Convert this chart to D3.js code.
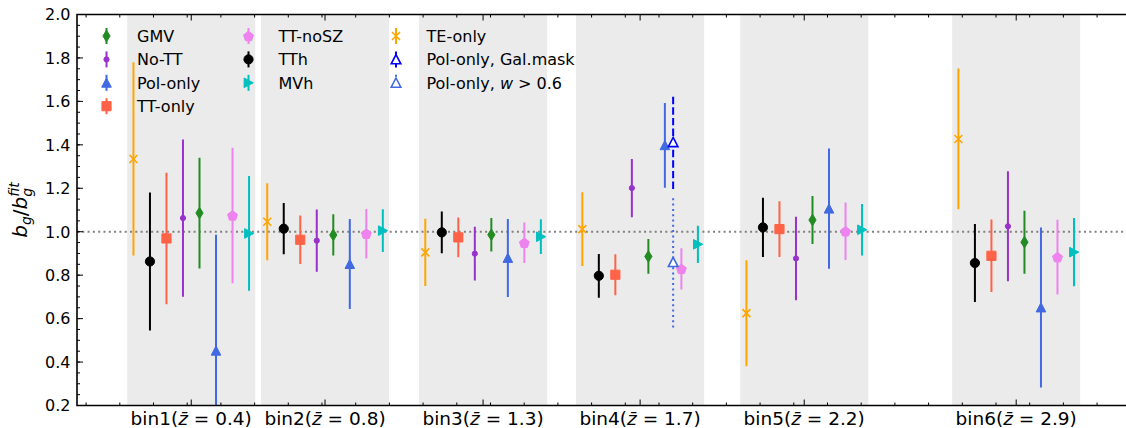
<!DOCTYPE html>
<meta charset="utf-8">
<style>
    body { margin: 0; background: #fff; }
    svg { display: block; }
    text { font-family: "DejaVu Sans", sans-serif; fill: #000; }
</style>
<body>
<script src="https://cdn.jsdelivr.net/npm/d3@7"></script>
<script>

    // bins
    var binNames = ["bin1", "bin2", "bin3", "bin4", "bin5", "bin6"];
    var binZbar = ["0.4", "0.8", "1.3", "1.7", "2.2", "2.9"];
    var binCenters = [0.412, 0.809, 1.278, 1.744, 2.231, 2.860];

    // b_g / b_g^fit per bin, with 1-sigma errors
    var gmvVal  = [1.086, 0.985, 0.986, 0.886, 1.054, 0.952];
    var gmvErr  = [0.255, 0.095, 0.077, 0.080, 0.110, 0.145];
    var noTTVal = [1.063, 0.959, 0.899, 1.201, 0.877, 1.025];
    var noTTErr = [0.362, 0.143, 0.124, 0.134, 0.192, 0.253];
    var polVal  = [0.452, 0.851, 0.879, 1.398, 1.106, 0.651];
    var polErr  = [0.534, 0.207, 0.179, 0.195, 0.277, 0.368];
    var ttVal   = [0.969, 0.963, 0.974, 0.802, 1.012, 0.889];
    var ttErr   = [0.303, 0.112, 0.091, 0.094, 0.128, 0.167];
    var noSZVal = [1.075, 0.991, 0.949, 0.829, 1.002, 0.883];
    var noSZErr = [0.312, 0.114, 0.093, 0.095, 0.132, 0.172];
    var tthVal  = [0.863, 1.014, 0.997, 0.797, 1.020, 0.856];
    var tthErr  = [0.318, 0.118, 0.096, 0.101, 0.136, 0.179];
    var mvhVal  = [0.992, 1.005, 0.977, 0.942, 1.009, 0.906];
    var mvhErr  = [0.264, 0.098, 0.080, 0.086, 0.119, 0.157];
    var teVal   = [1.335, 1.046, 0.905, 1.012, 0.625, 1.427];
    var teErr   = [0.445, 0.177, 0.155, 0.170, 0.244, 0.324];
    // extra pol-only checks, bin4 only
    var galBins = [3], galVal = [1.412], galErr = [0.215];
    var w06Bins = [3], w06Val = [0.860], w06Err = [0.301];

    var allBins = [0, 1, 2, 3, 4, 5];

    // plotting order; slot = horizontal offset inside a bin
    var series = [
        {name: "GMV", bins: allBins, val: gmvVal, err: gmvErr, slot: 0.5, color: "#228B22", shape: "thin_diamond"},
        {name: "No-TT", bins: allBins, val: noTTVal, err: noTTErr, slot: -0.5, color: "#9932CC", shape: "point"},
        {name: "Pol-only", bins: allBins, val: polVal, err: polErr, slot: 1.5, color: "#4169E1", shape: "triangle"},
        {name: "TT-only", bins: allBins, val: ttVal, err: ttErr, slot: -1.5, color: "#FF6347", shape: "square"},
        {name: "TT-noSZ", bins: allBins, val: noSZVal, err: noSZErr, slot: 2.5, color: "#EE82EE", shape: "pentagon"},
        {name: "TTh", bins: allBins, val: tthVal, err: tthErr, slot: -2.5, color: "#000000", shape: "circle"},
        {name: "MVh", bins: allBins, val: mvhVal, err: mvhErr, slot: 3.5, color: "#00BFBF", shape: "triangle_right"},
        {name: "TE-only", bins: allBins, val: teVal, err: teErr, slot: -3.5, color: "#FFA500", shape: "x"},
        {name: "Pol-only, Gal.mask", bins: galBins, val: galVal, err: galErr, slot: 2, color: "#0000FF", shape: "open_triangle", dash: "7.4 3.2"},
        {name: "Pol-only, w06", bins: w06Bins, val: w06Val, err: w06Err, slot: 2, color: "#4169E1", shape: "open_triangle", dash: "2 3.3"}
    ];

    var legendCols = [
        ["GMV", "No-TT", "Pol-only", "TT-only"],
        ["TT-noSZ", "TTh", "MVh"],
        ["TE-only", "Pol-only, Gal.mask", "Pol-only, w06"]
    ];

    var W = 1126, H = 428;
    var axL = 77, axT = 14.5, axB = 405.5, axR = 1151;
    var slotWidth = 0.049, bandHalf = 0.19;

    var x = d3.scaleLinear().domain([0.073, 3.26]).range([axL, axR]);
    var y = d3.scaleLinear().domain([0.2, 2.0]).range([axB, axT]);

    var svg = d3.select("body").append("svg")
        .attr("width", W)
        .attr("height", H)
        .style("font-family", "'DejaVu Sans', sans-serif");

    svg.append("clipPath").attr("id", "clip")
        .append("rect")
        .attr("x", axL).attr("y", axT)
        .attr("width", axR - axL).attr("height", axB - axT);

    var plot = svg.append("g").attr("clip-path", "url(#clip)");

    // grey bands per bin
    plot.selectAll("rect.band")
        .data(binCenters)
        .enter().append("rect")
        .attr("class", "band")
        .attr("x", function(d) { return x(d - bandHalf); })
        .attr("width", function(d) { return x(d + bandHalf) - x(d - bandHalf); })
        .attr("y", axT)
        .attr("height", axB - axT)
        .attr("fill", "#ebebeb");

    // reference line at 1
    plot.append("line")
        .attr("x1", axL).attr("x2", axR)
        .attr("y1", y(1)).attr("y2", y(1))
        .attr("stroke", "#808080")
        .attr("stroke-width", 2)
        .attr("stroke-dasharray", "2 3.3");

    function markerPath(shape) {
        switch (shape) {
            case "circle": return d3.symbol(d3.symbolCircle, Math.PI * 4.6 * 4.6)();
            case "point": return d3.symbol(d3.symbolCircle, Math.PI * 2.6 * 2.6)();
            case "square": return "M-4.6,-4.6H4.6V4.6H-4.6Z";
            case "thin_diamond": return "M0,-5.8L3.6,0L0,5.8L-3.6,0Z";
            case "triangle":
            case "open_triangle": return "M0,-4.8L4.8,4.4L-4.8,4.4Z";
            case "triangle_right": return "M4.8,0L-4.4,4.8L-4.4,-4.8Z";
            case "pentagon":
                var pts = d3.range(5).map(function(i) {
                    var a = -Math.PI / 2 + i * 2 * Math.PI / 5;
                    return [5.2 * Math.cos(a), 5.2 * Math.sin(a) + 0.5];
                });
                return "M" + pts.join("L") + "Z";
            case "x": return "M-4,-4L4,4M-4,4L4,-4";
        }
    }

    function drawMarker(g, s) {
        var p = g.append("path").attr("d", markerPath(s.shape));
        if (s.shape === "x") {
            p.attr("fill", "none").attr("stroke", s.color).attr("stroke-width", 1.6);
        } else if (s.shape === "open_triangle") {
            p.attr("fill", "#fff").attr("stroke", s.color).attr("stroke-width", 1.6);
        } else {
            p.attr("fill", s.color).attr("stroke", s.color).attr("stroke-width", 1);
        }
    }

    series.forEach(function(s) {
        var pts = s.bins.map(function(b, i) {
            return {cx: binCenters[b] + s.slot * slotWidth, v: s.val[i], e: s.err[i]};
        });
        var g = plot.append("g").attr("class", "series");
        g.selectAll("line")
            .data(pts)
            .enter().append("line")
            .attr("x1", function(d) { return x(d.cx); })
            .attr("x2", function(d) { return x(d.cx); })
            .attr("y1", function(d) { return y(d.v - d.e); })
            .attr("y2", function(d) { return y(d.v + d.e); })
            .attr("stroke", s.color)
            .attr("stroke-width", 2)
            .attr("stroke-dasharray", s.dash || null);
        g.selectAll("g.mk")
            .data(pts)
            .enter().append("g")
            .attr("class", "mk")
            .attr("transform", function(d) { return "translate(" + x(d.cx) + "," + y(d.v) + ")"; })
            .each(function() { drawMarker(d3.select(this), s); });
    });

    // axes
    var xMinor = d3.range(1, 33).map(function(i) { return i / 10; });
    var yMajor = d3.range(2, 21, 2).map(function(i) { return i / 10; });
    var yMinor = d3.range(4, 41).map(function(i) { return i / 20; });

    function tickLines(g, vals, scale, len, orient) {
        g.selectAll("line")
            .data(vals)
            .enter().append("line")
            .attr("stroke", "#000")
            .attr("stroke-width", 1)
            .each(function(d) {
                var l = d3.select(this);
                if (orient === "bottom") l.attr("x1", scale(d)).attr("x2", scale(d)).attr("y1", axB).attr("y2", axB - len);
                if (orient === "top") l.attr("x1", scale(d)).attr("x2", scale(d)).attr("y1", axT).attr("y2", axT + len);
                if (orient === "left") l.attr("y1", scale(d)).attr("y2", scale(d)).attr("x1", axL).attr("x2", axL + len);
            });
    }

    var axes = svg.append("g").attr("class", "axes");
    tickLines(axes.append("g"), xMinor, x, 3, "bottom");
    tickLines(axes.append("g"), xMinor, x, 3, "top");
    tickLines(axes.append("g"), binCenters, x, 6, "bottom");
    tickLines(axes.append("g"), binCenters, x, 6, "top");
    tickLines(axes.append("g"), yMinor, y, 3, "left");
    tickLines(axes.append("g"), yMajor, y, 6, "left");

    axes.append("path")
        .attr("d", "M" + axR + "," + axT + "H" + axL + "V" + axB + "H" + axR)
        .attr("fill", "none")
        .attr("stroke", "#000")
        .attr("stroke-width", 1.6);

    axes.selectAll("text.ytick")
        .data(yMajor)
        .enter().append("text")
        .attr("class", "ytick")
        .attr("x", axL - 6.5)
        .attr("y", function(d) { return y(d) + 5.8; })
        .attr("text-anchor", "end")
        .style("font-size", "16px")
        .text(d3.format(".1f"));

    var xt = axes.selectAll("text.xtick")
        .data(binCenters)
        .enter().append("text")
        .attr("class", "xtick")
        .attr("x", function(d) { return x(d); })
        .attr("y", axB + 19)
        .attr("text-anchor", "middle")
        .style("font-size", "18.5px");
    xt.append("tspan").text(function(d, i) { return binNames[i] + "("; });
    xt.append("tspan").style("font-style", "italic").text("z\u0304");
    xt.append("tspan").text(function(d, i) { return " = " + binZbar[i] + ")"; });

    // y label b_g / b_g^fit
    var yl = svg.append("g");
    var cursor = 0, subStart = 0, lastW = 0;
    var pieces = [
        {t: "b", it: true, fs: 20, dy: 0},
        {t: "g", it: true, fs: 14, dy: 3.5},
        {t: "/", it: false, fs: 20, dy: 0},
        {t: "b", it: true, fs: 20, dy: 0},
        {t: "g", it: true, fs: 14, dy: 4.5, mark: true},
        {t: "fit", it: true, fs: 14, dy: -8, stack: true}
    ];
    pieces.forEach(function(p) {
        var px = p.stack ? subStart : cursor;
        var t = yl.append("text")
            .attr("x", px).attr("y", p.dy)
            .style("font-size", p.fs + "px")
            .style("font-style", p.it ? "italic" : "normal")
            .text(p.t);
        var w = t.node().getComputedTextLength();
        if (p.mark) { subStart = cursor; lastW = w; }
        if (p.stack) cursor = subStart + Math.max(w, lastW);
        else cursor += w;
    });
    yl.attr("transform", "translate(27," + ((axT + axB) / 2) + ") rotate(-90) translate(" + (-cursor / 2) + ",0)");

    // legend
    var legendX = [[106.5, 137], [248.5, 278.5], [396, 426.5]];
    var legendY0 = 36, legendDy = 23.4;
    var leg = svg.append("g").attr("class", "legend");
    legendCols.forEach(function(col, c) {
        col.forEach(function(name, r) {
            var s = series.filter(function(d) { return d.name === name; })[0];
            var cy = legendY0 + r * legendDy;
            var g = leg.append("g").attr("transform", "translate(" + legendX[c][0] + "," + cy + ")");
            g.append("line")
                .attr("y1", -8).attr("y2", 8)
                .attr("stroke", s.color)
                .attr("stroke-width", 2)
                .attr("stroke-dasharray", s.dash || null);
            drawMarker(g, s);
            var t = leg.append("text")
                .attr("x", legendX[c][1])
                .attr("y", cy + 5.8)
                .style("font-size", "16px");
            if (name === "Pol-only, w06") {
                t.append("tspan").text("Pol-only, ");
                t.append("tspan").style("font-style", "italic").text("w");
                t.append("tspan").text(" > 0.6");
            } else {
                t.text(name);
            }
        });
    });

</script>
